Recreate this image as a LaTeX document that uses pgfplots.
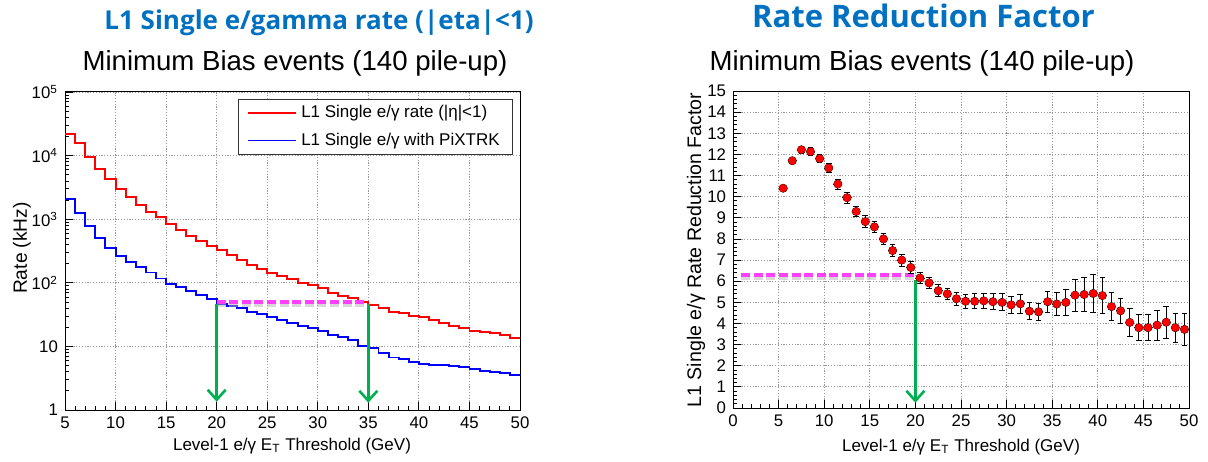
\documentclass[border=0pt]{standalone}
\usepackage{fontspec}
\setmainfont{Liberation Sans}
\newfontfamily\titlefont{Open Sans}
\usepackage{pgfplots}
\usepackage{pgfplotstable}
\pgfplotsset{compat=1.18}
\usetikzlibrary{arrows.meta}

\definecolor{ttlblue}{RGB}{0,112,192}
\definecolor{arrowgreen}{RGB}{0,176,80}
\definecolor{dashmag}{RGB}{255,64,255}

% rate per bin (lower edge, kHz)
\pgfplotstableread{
x   y
5   21900
6   15600
7   9620
8   6160
9   4240
10  2990
11  2210
12  1670
13  1310
14  1095
15  841
16  677
17  544
18  454
19  379
20  328
21  274
22  228
23  190
24  166
25  142
26  128
27  113
28  100
29  92
30  82
31  70
32  62
33  58
34  50.5
35  44.8
36  39.7
37  35.2
38  33.1
39  30.0
40  28.7
41  26.0
42  23.6
43  20.9
44  19.3
45  17.7
46  17.0
47  16.4
48  15.1
49  13.4
50  13.4
}\ratered

\pgfplotstableread{
x   y
5   2055
6   1265
7   790
8   500
9   348
10  267
11  215
12  176
13  145
14  117
15  96
16  85
17  75
18  64
19  55
20  46
21  43.2
22  39.7
23  35.2
24  32.3
25  29.3
26  26.0
27  23.1
28  20.9
29  19.3
30  17.5
31  15.1
32  13.9
33  12.6
34  10.1
35  9.3
36  8.0
37  6.7
38  6.3
39  5.75
40  5.3
41  5.1
42  5.1
43  4.92
44  4.8
45  4.36
46  4.1
47  3.92
48  3.86
49  3.55
50  3.55
}\rateblue

% reduction factor
\pgfplotstableread{
x     y      ey
5.5   10.40  0.08
6.5   11.70  0.10
7.5   12.22  0.15
8.5   12.13  0.18
9.5   11.80  0.20
10.5  11.36  0.22
11.5  10.60  0.24
12.5  9.95   0.25
13.5  9.30   0.25
14.5  8.82   0.27
15.5  8.57   0.28
16.5  8.00   0.28
17.5  7.45   0.28
18.5  7.00   0.28
19.5  6.65   0.28
20.5  6.15   0.25
21.5  5.92   0.25
22.5  5.55   0.28
23.5  5.40   0.28
24.5  5.17   0.30
25.5  5.05   0.32
26.5  5.05   0.35
27.5  5.07   0.35
28.5  5.03   0.38
29.5  5.00   0.40
30.5  4.88   0.42
31.5  4.93   0.45
32.5  4.58   0.40
33.5  4.55   0.42
34.5  5.03   0.50
35.5  4.92   0.55
36.5  5.00   0.60
37.5  5.34   0.75
38.5  5.37   0.80
39.5  5.42   0.88
40.5  5.32   0.85
41.5  4.80   0.65
42.5  4.60   0.60
43.5  4.05   0.65
44.5  3.80   0.62
45.5  3.80   0.62
46.5  3.92   0.70
47.5  4.06   0.75
48.5  3.80   0.70
49.5  3.72   0.75
}\rrf

\pgfplotsset{
  rootstyle/.style={
    scale only axis,
    axis line style={black, line width=0.5pt},
    tick align=inside,
    tick pos=left,
    major tick length=4pt,
    minor tick length=2pt,
    tick style={black, line width=0.4pt},
    grid=major,
    major grid style={gray!80, line width=0.4pt, dash pattern=on 0.6pt off 0.8pt},
    ticklabel style={font=\fontsize{8.4}{10}\selectfont},
    /pgf/number format/assume math mode=true,
    minor x tick num=4,
  },
}

\begin{document}
\begin{tikzpicture}
\useasboundingbox (0,0) rectangle (604pt,230.5pt);

% left: rates
\begin{axis}[rootstyle,
    at={(32.5pt,25.5pt)}, anchor=south west,
    width=227.5pt, height=159pt,
    xmin=5, xmax=50, xtick={5,10,...,50},
    ymode=log, ymin=1, ymax=1e5,
    ytick={1,10,100,1000,10000,100000},
    yticklabels={1,10,10\textsuperscript{2},10\textsuperscript{3},10\textsuperscript{4},10\textsuperscript{5}},
    legend cell align=left,
    legend style={at={(0.985,0.978)}, anchor=north east,
      draw=black!80, line width=0.5pt, fill=white,
      font=\fontsize{8.5}{10}\selectfont,
      inner xsep=4.5pt, inner ysep=1pt, row sep=2pt},
    legend image code/.code={\draw[#1, line width=0.9pt] (0pt,0pt) -- (24pt,0pt);},
  ]
  \addplot[red, line width=0.95pt, const plot] table[x=x,y=y]{\ratered};
  \addlegendentry{L1 Single e/γ rate (|η|<1)\hspace{8pt}}
  \addplot[blue, line width=0.95pt, const plot] table[x=x,y=y]{\rateblue};
  \addlegendentry{L1 Single e/γ with PiXTRK\hspace{8pt}}

  \addplot[forget plot, gray!60, opacity=0.5, line width=2.5pt, yshift=-1.3pt,
    dash pattern=on 4.5pt off 1.8pt] coordinates {(20,49.4) (34.7,49.4)};
  \addplot[forget plot, dashmag, line width=2pt,
    dash pattern=on 4.5pt off 1.8pt] coordinates {(20,49.4) (34.7,49.4)};
  \addplot[forget plot, arrowgreen, line width=1.3pt,
    -{Straight Barb[length=5pt,width=9pt,line width=1.3pt]}]
    coordinates {(20,47) (20,1.35)};
  \addplot[forget plot, arrowgreen, line width=1.3pt,
    -{Straight Barb[length=5pt,width=9pt,line width=1.3pt]}]
    coordinates {(35,47) (35,1.3)};
\end{axis}

% right: reduction factor
\begin{axis}[rootstyle,
    at={(366.5pt,26.5pt)}, anchor=south west,
    width=228pt, height=158.5pt,
    xmin=0, xmax=50, xtick={0,5,...,50},
    ymin=0, ymax=15, ytick={0,1,...,15},
    minor y tick num=4,
  ]
  \addplot[gray!60, opacity=0.5, line width=2.5pt, yshift=-1.3pt,
    dash pattern=on 4.5pt off 1.8pt] coordinates {(0.9,6.28) (20,6.28)};
  \addplot[dashmag, line width=2pt,
    dash pattern=on 4.5pt off 1.8pt] coordinates {(0.9,6.28) (20,6.28)};

  \addplot[only marks, mark=none,
    error bars/.cd, x dir=both, x fixed=0.5, error mark=none,
    error bar style={black, line width=0.4pt}]
    table[x=x,y=y]{\rrf};
  \addplot[only marks, mark=*, mark size=1.8pt, mark options={fill=red, draw=red},
    error bars/.cd, y dir=both, y explicit,
    error mark options={rotate=90, black, mark size=1.4pt, line width=0.4pt},
    error bar style={black, line width=0.4pt}]
    table[x=x,y=y,y error=ey]{\rrf};

  \addplot[arrowgreen, line width=1.3pt,
    -{Straight Barb[length=5pt,width=9pt,line width=1.3pt]}]
    coordinates {(20,6.05) (20,0.25)};
\end{axis}

% titles and labels
\node[anchor=base, inner sep=0, text=ttlblue,
  font=\titlefont\bfseries\fontsize{13}{16}\selectfont]
  at (159.5pt,215.5pt) {L1 Single e/gamma rate (|eta|<1)};
\node[anchor=base, inner sep=0, text=ttlblue,
  font=\titlefont\bfseries\fontsize{15.5}{18}\selectfont]
  at (461.75pt,216.5pt) {Rate Reduction Factor};

\node[anchor=base, inner sep=0, font=\fontsize{13.8}{16}\selectfont]
  at (147.5pt,195pt) {Minimum Bias events (140 pile-up)};
\node[anchor=base, inner sep=0, font=\fontsize{13.8}{16}\selectfont]
  at (461pt,195pt) {Minimum Bias events (140 pile-up)};

\node[anchor=base, inner sep=0, font=\fontsize{8.5}{10}\selectfont]
  at (146pt,5.5pt) {Level-1 e/γ E\textsubscript{T} Threshold (GeV)};
\node[anchor=base, inner sep=0, font=\fontsize{8.5}{10}\selectfont]
  at (480.5pt,5pt) {Level-1 e/γ E\textsubscript{T} Threshold (GeV)};

\node[rotate=90, inner sep=0, font=\fontsize{9.6}{12}\selectfont]
  at (11pt,106.5pt) {Rate (kHz)};
\node[rotate=90, inner sep=0, font=\fontsize{9.8}{12}\selectfont]
  at (348pt,105.5pt) {L1 Single e/γ Rate Reduction Factor};
\end{tikzpicture}
\end{document}
